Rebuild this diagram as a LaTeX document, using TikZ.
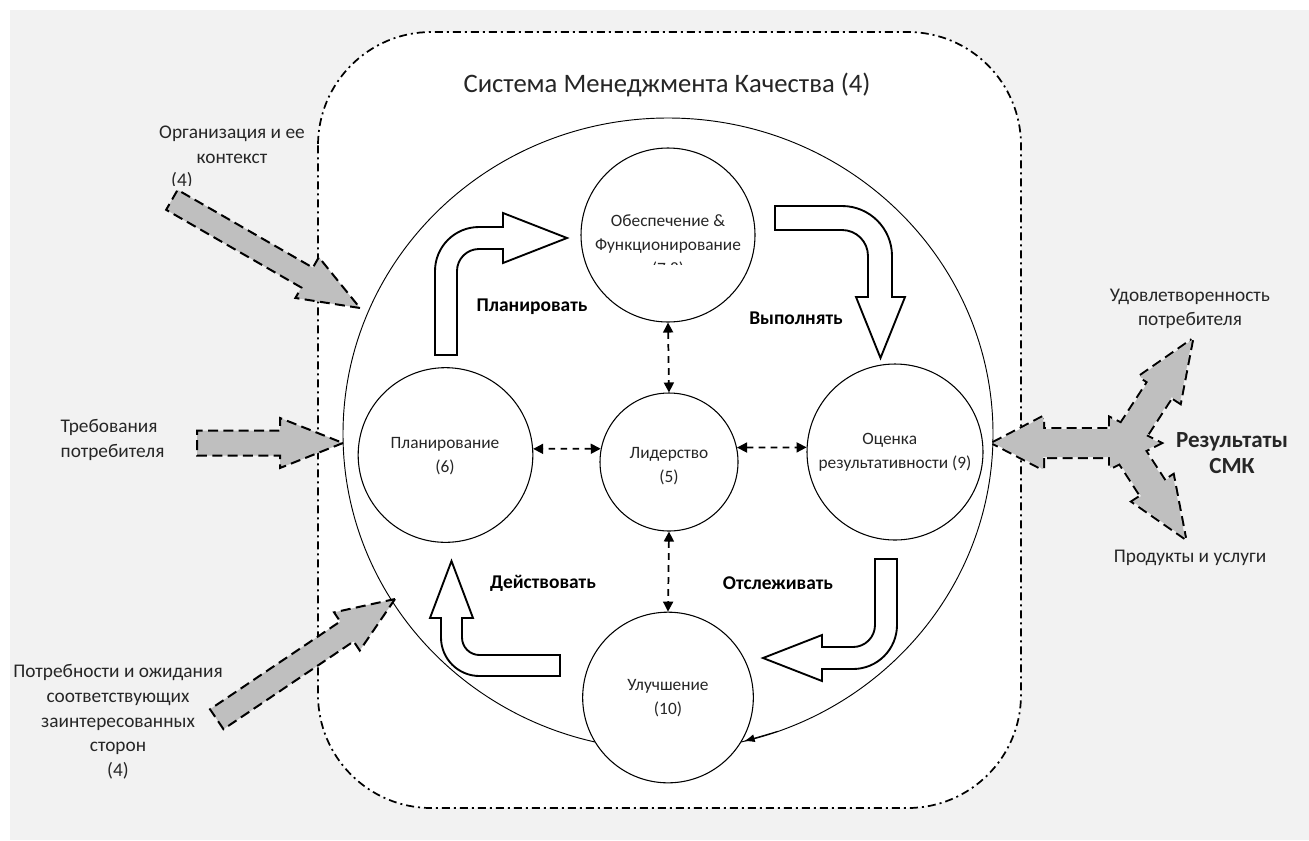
\documentclass[tikz,border=0pt]{standalone}
\usepackage{fontspec}
\setmainfont{Carlito}
\usetikzlibrary{arrows.meta,shapes.geometric}
\definecolor{bggray}{HTML}{F2F2F2}
\definecolor{arrgray}{HTML}{BFBFBF}
\definecolor{txtc}{HTML}{262626}
\newcommand{\GreyBlockArrow}[7]{%
  \begin{scope}[shift={#2}, rotate=#3]
    \path[#1] (0,0) -- (-#5,#7) -- (-#5,#6) -- (-#4,#6) -- (-#4,-#6) -- (-#5,-#6) -- (-#5,-#7) -- cycle;
  \end{scope}}
\begin{document}
\begin{tikzpicture}[x=0.75pt, y=-0.75pt,
  garrow/.style={fill=arrgray, draw=black, line width=1.5pt, dash pattern=on 7.5pt off 4pt, line join=miter},
  wblock/.style={fill=white, draw=black, line width=1.4pt, line join=miter},
  circ/.style={circle, draw=black, line width=0.8pt, fill=white, inner sep=0pt, minimum size=#1},
  ctext/.style={font=\fontsize{13}{18}\selectfont, text=txtc, align=center},
  otext/.style={font=\fontsize{14.5}{18.5}\selectfont, text=txtc, align=center},
  btext/.style={font=\fontsize{14.6}{18}\selectfont\bfseries, text=black},
  dconn/.style={{Triangle[length=7.5pt,width=7.5pt]}-{Triangle[length=7.5pt,width=7.5pt]}, line width=1.3pt, dash pattern=on 5pt off 4pt},
]
\useasboundingbox (0,0) rectangle (1309,840);
\fill[bggray] (10,10) rectangle (1309,840);
% QMS frame
\draw[fill=white, line width=1.3pt, dash pattern=on 6pt off 3pt on 1.5pt off 3pt, rounded corners=85pt] (318,32) rectangle (1021,808);
\node[font=\fontsize{20}{24}\selectfont, text=txtc] (title) at (667,85) {Система Менеджмента Качества (4)};
% big ellipse
\node[ellipse, draw=black, line width=0.7pt, inner sep=0pt, minimum width=487.5pt, minimum height=474pt] (big) at (668,434) {};
% outside label with clipped "(4)"
\node[otext] (org) at (232,145) {Организация и ее\\контекст};
\begin{scope}
\clip (155,165) rectangle (215,185);
\node[otext] (org4) at (182,181) {(4)};
\end{scope}
% grey input arrows
\GreyBlockArrow{garrow}{(360,308)}{-29.9}{217}{61}{11.5}{23.5}
\GreyBlockArrow{garrow}{(343,443)}{0}{146}{63}{12.5}{25}
\GreyBlockArrow{garrow}{(395,599)}{34}{215}{58}{12}{23}
% three-way output arrow: outlines first, fills on top
\path[draw=black, line width=3pt, dash pattern=on 7.5pt off 4pt] (993,443) -- (1043,417) -- (1043,429) -- (1110,429) -- (1110,418) -- (1160,443) -- (1110,468) -- (1110,457) -- (1043,457) -- (1043,469) -- cycle;
\GreyBlockArrow{draw=black, line width=3pt, dash pattern=on 7.5pt off 4pt}{(1192,340)}{57}{110}{59}{14}{24}
\GreyBlockArrow{draw=black, line width=3pt, dash pattern=on 7.5pt off 4pt}{(1185,538)}{-57}{105}{59}{14}{24}
\path[fill=arrgray] (993,443) -- (1043,417) -- (1043,429) -- (1110,429) -- (1110,418) -- (1160,443) -- (1110,468) -- (1110,457) -- (1043,457) -- (1043,469) -- cycle;
\GreyBlockArrow{fill=arrgray}{(1192,340)}{57}{110}{59}{14}{24}
\GreyBlockArrow{fill=arrgray}{(1185,538)}{-57}{105}{59}{14}{24}
% PDCA block arrows
\path[wblock] (435,355) -- (435,271) .. controls (435,246.7) and (454.7,227) .. (479,227) -- (503,227) -- (503,213) -- (567,238) -- (503,263) -- (503,249) -- (479,249) .. controls (466.85,249) and (457,258.85) .. (457,271) -- (457,355) -- cycle;
\path[wblock] (775,206) -- (842,206) .. controls (869.6,206) and (892,228.4) .. (892,256) -- (892,297) -- (905,297) -- (880.5,358) -- (856,297) -- (868,297) -- (868,256) .. controls (868,241.6) and (856.4,230) .. (842,230) -- (775,230) -- cycle;
\path[wblock] (875,559) -- (897,559) -- (897,625) .. controls (897,649.3) and (877.3,669) .. (853,669) -- (822,669) -- (822,681) -- (763,658) -- (822,635) -- (822,647) -- (853,647) .. controls (865.15,647) and (875,637.15) .. (875,625) -- cycle;
\path[wblock] (560,655) -- (560,676) -- (479.5,676) .. controls (458.2,676) and (441,658.8) .. (441,637.5) -- (441,618) -- (430,618) -- (451.5,561) -- (473,618) -- (462,618) -- (462,637.5) .. controls (462,647.2) and (469.8,655) .. (479.5,655) -- cycle;
% circles
\node[circ=130.5pt] (prov) at (668,235) {};
\node[circ=131pt] (plan) at (445.5,455) {};
\node[circ=103.5pt] (lead) at (669,462) {};
\node[circ=132pt] (eval) at (895,452) {};
\node[circ=128pt] (impr) at (668,697.5) {};
% dashed links
\draw[dconn] (prov.south) -- (lead.north);
\draw[dconn] (lead.south) -- (impr.north);
\draw[dconn] (lead.169) -- (plan.4);
\draw[dconn] (lead.12) -- (eval.177);
% arrow at end of big ellipse
\coordinate (bigA) at (778,731.3);
\coordinate (bigB) at (744,741.2);
\draw[line width=0.7pt, -{Latex[length=8pt,width=6pt]}] (bigA) -- (bigB);
% circle texts
\begin{scope}
\clip (560,150) rectangle (780,264);
\node[ctext] (tprov) at (668,246) {Обеспечение \&\\Функционирование\\(7,8)};
\end{scope}
\node[ctext] (tplan) at (445,456) {Планирование\\(6)};
\node[ctext] (tlead) at (669,466) {Лидерство\\(5)};
\node[ctext] (teval) at (895,452) {Оценка\hspace*{8pt}\\результативности (9)};
\node[ctext] (timpr) at (668,698) {Улучшение\\(10)};
% PDCA labels
\node[btext] (lplan) at (532,307) {Планировать};
\node[btext] (ldo) at (796,318) {Выполнять};
\node[btext] (lact) at (543,583) {Действовать};
\node[btext] (lchk) at (778,583) {Отслеживать};
% other outside labels
\node[otext, align=left, anchor=west] (treb) at (56,440) {Требования\\потребителя};
\node[otext] (potr) at (118,722) {Потребности и ожидания\\соответствующих\\заинтересованных\\сторон\\(4)};
\node[otext] (udov) at (1190,309) {Удовлетворенность\\потребителя};
\node[otext] (prod) at (1190,558) {Продукты и услуги};
\node[font=\fontsize{17.3}{19.5}\selectfont\bfseries, align=center, text=txtc] (res) at (1232,453) {Результаты\\СМК};
\end{tikzpicture}
\end{document}
